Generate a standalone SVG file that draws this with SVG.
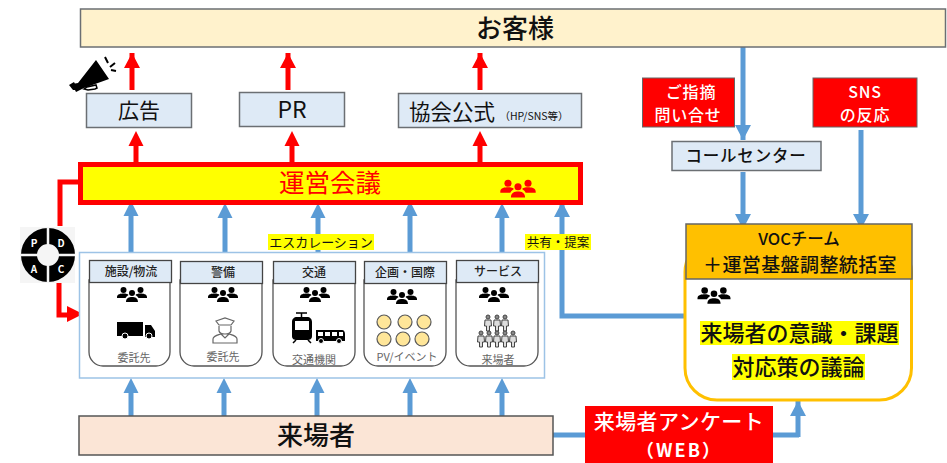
<svg xmlns="http://www.w3.org/2000/svg" xmlns:xlink="http://www.w3.org/1999/xlink" width="947" height="463" viewBox="0 0 947 463">
<style>
text{font-family:"Noto Sans CJK JP","Noto Sans",sans-serif;text-anchor:middle;fill:#111}
.box{fill:#DEEAF6;stroke:#6b6f73;stroke-width:1.5}
.red{fill:#FF0000;stroke:#666;stroke-width:1}
.card{fill:#fff;stroke:#555;stroke-width:1.3}
.head{fill:#DEEAF6;stroke:#444;stroke-width:1.3}
.ht{font-size:12px;font-weight:500;fill:#222}
.ct{font-size:11px;fill:#666}
.hl{fill:#FFFF00}
.bl{fill:none;stroke:#5B9BD5;stroke-width:5}
.rd{fill:none;stroke:#FF0000;stroke-width:5}
.c{fill:#FFE699;stroke:#595959;stroke-width:1.2}
</style>
<defs>
<marker id="ab" markerUnits="userSpaceOnUse" markerWidth="16" markerHeight="16" refX="15" refY="8" orient="auto"><path d="M0 0L15 8L0 16z" fill="#5B9BD5"/></marker>
<marker id="ar" markerUnits="userSpaceOnUse" markerWidth="16" markerHeight="16" refX="15" refY="8" orient="auto"><path d="M0 0L15 8L0 16z" fill="#FF0000"/></marker>
<g id="people">
<circle cx="-8.500" cy="-5" r="3"/><circle cx="8.500" cy="-5" r="3"/><circle cx="0" cy="-2" r="3"/>
<path d="M-15 2C-15-1-11-1.500-8.500-1.500C-6-1.500-4-1-3.500 0C-5 1-6 2-6.500 3H-15zM15 2C15-1 11-1.500 8.500-1.500C6-1.500 4-1 3.500 0C5 1 6 2 6.500 3H15zM-6 7C-6 3-3 2 0 2C3 2 6 3 6 7z"/>
</g>
<g id="person" fill="none" stroke="#444" stroke-width="1">
<circle cx="0" cy="-6" r="2" fill="#888"/><path d="M-3-3H3L3.500 3H1.500V8H-1.500V3H-3.500z" fill="#ddd"/>
</g>
</defs>

<g id="connectors">
<path class="rd" marker-end="url(#ar)" d="M132 90V53"/>
<path class="rd" marker-end="url(#ar)" d="M288 90V53"/>
<path class="rd" marker-end="url(#ar)" d="M480 90V53"/>
<path class="bl" marker-end="url(#ab)" d="M743 47V140"/>
<path class="bl" marker-end="url(#ab)" d="M743 172V229"/>
<path class="bl" marker-end="url(#ab)" d="M861 130V229"/>
<path class="bl" d="M553 435H586M772 435H799"/>
<path class="bl" marker-end="url(#ab)" d="M798 437V401"/>
<path class="bl" d="M131 252V215M225 252V215M318 252V215M410 252V215M502 252V215"/>
<path d="M123.500 216L131 201L138.500 216zM217.500 218L225 203L232.500 218zM310.500 218L318 203L325.500 218zM402.500 216L410 201L417.500 216zM494.500 218L502 203L509.500 218z" fill="#5B9BD5"/>
<path class="bl" d="M131 416V392M224 416V392M317 416V392M410 416V392M502 416V392"/>
<path d="M123.500 393L131 378L138.500 393zM216.500 393L224 378L231.500 393zM309.500 393L317 378L324.500 393zM402.500 393L410 378L417.500 393zM494.500 393L502 378L509.500 393z" fill="#5B9BD5"/>
<path class="bl" marker-end="url(#ab)" d="M684 316H562V202"/>
<path class="rd" d="M79 182H60V226"/>
<path class="rd" d="M59 283V315H70"/>
<path d="M67 306L83 314L67 322z" fill="#FF0000"/>
</g>

<g id="customer"><rect x="80.500" y="9" width="865" height="38" fill="#FFF2CC" stroke="#6b6f73" stroke-width="1.5"/><text x="515" y="38" font-size="26" font-weight="500">お客様</text></g>
<g id="ad"><rect class="box" x="86.500" y="93.500" width="105" height="34"/><text x="139" y="118" font-size="21">広告</text></g>
<g id="pr"><rect class="box" x="239.500" y="92.500" width="105" height="34"/><text x="292" y="118" font-size="23">PR</text></g>
<g id="official"><rect class="box" x="398.500" y="93.500" width="183" height="34"/><text x="452" y="120" font-size="21.500">協会公式</text><text x="534" y="120" font-size="10.500" fill="#444">（HP/SNS等）</text></g>
<g id="megaphone">
<path d="M72 84L78 83L96 60L109 79L84 88L76 92z" fill="#000"/><path d="M69 85L74 82L78 90L73 90z" fill="#000"/><path d="M84 89L87 87L96 85L97 88L95 89L88 90z" fill="none" stroke="#000" stroke-width="1.500"/>
<path d="M105 57L108 63M110 67L115 63M111 70L116 71" stroke="#000" stroke-width="2" fill="none"/>
</g>
<g id="board"><rect x="80.500" y="164.500" width="500" height="38" fill="#FFFF00" stroke="#FF0000" stroke-width="5"/><text x="330" y="192" font-size="25.500" style="fill:#FF0000">運営会議</text><use href="#people" x="518" y="189" fill="#FF0000" transform="translate(-93.240 -33.900) scale(1.180)" style="transform-origin:0 0"/></g>
<path class="rd" d="M136 166V145M292 166V145M480 166V145"/>
<path d="M128.500 146L136 131L143.500 146zM284.500 146L292 131L299.500 146zM472.500 146L480 131L487.500 146z" fill="#FF0000"/>

<g id="pdca">
<rect x="20" y="227" width="55" height="56" fill="#f5f5f5"/>
<circle cx="48" cy="255" r="19" fill="none" stroke="#000" stroke-width="16"/>
<path d="M48 228V282M21 255H75" stroke="#f5f5f5" stroke-width="2.500"/>
<text x="34" y="247" font-size="10" font-weight="700" style="fill:#fff">P</text><text x="61" y="247" font-size="10" font-weight="700" style="fill:#fff">D</text><text x="34" y="273" font-size="10" font-weight="700" style="fill:#fff">A</text><text x="61" y="273" font-size="10" font-weight="700" style="fill:#fff">C</text>
</g>

<g id="frame"><rect x="79.500" y="252.500" width="465" height="125.500" fill="#fff" stroke="#9DC3E6" stroke-width="1.500"/></g>
<g id="card-facility">
<path class="card" d="M89 280V352A14 14 0 0 0 103 366H156A14 14 0 0 0 170 352V280z"/><rect class="head" x="89.500" y="260.500" width="82" height="22"/>
<text class="ht" x="131" y="276">施設/物流</text><use href="#people" x="132" y="295"/>
<path d="M117 322H143V336H117zM145 325H151L155 331V337H145z"/><circle cx="125" cy="336" r="3" stroke="#fff"/><circle cx="149" cy="336" r="3" stroke="#fff"/>
<text class="ct" x="134" y="362">委託先</text>
</g>
<g id="card-security">
<path class="card" d="M180 280V352A14 14 0 0 0 194 366H248A14 14 0 0 0 262 352V280z"/><rect class="head" x="180.500" y="261.500" width="82" height="22"/>
<text class="ht" x="223" y="277">警備</text><use href="#people" x="223" y="295"/>
<path d="M216 321L225 318L234 321L231 325H219zM219 326V331C220 335 230 335 231 331V326M213 343V339C213 336 218 335 221 334L225 338L229 334C232 335 237 336 237 339V343z" fill="#fff" stroke="#666" stroke-width="1.2"/>
<text class="ct" x="223" y="361">委託先</text>
</g>
<g id="card-transit">
<path class="card" d="M273 280V352A14 14 0 0 0 287 366H341A14 14 0 0 0 355 352V280z"/><rect class="head" x="273.500" y="261.500" width="82" height="22"/>
<text class="ht" x="314" y="277">交通</text><use href="#people" x="315" y="295"/>
<path d="M296 313H307M301.500 313V318" stroke="#000" stroke-width="1.500" fill="none"/>
<path d="M297 317H307C310 317 312 319 312 322V336C312 339 310 340 307 340H297C294 340 292 339 292 336V322C292 319 294 317 297 317zM295 321V330H309V321z" fill-rule="evenodd"/>
<path d="M296 340L293 343M308 340L311 343" stroke="#000" stroke-width="1.500"/>
<path d="M316 330H342C344 330 345 332 345 334V341H316zM318 332V336H323V332zM325 332V336H330V332zM332 332V336H337V332zM339 332V336H343V332z" fill-rule="evenodd"/><circle cx="321" cy="341" r="2.500" stroke="#fff"/><circle cx="339" cy="341" r="2.500" stroke="#fff"/>
<text class="ct" x="314" y="364">交通機関</text>
</g>
<g id="card-planning">
<path class="card" d="M364 280V352A14 14 0 0 0 378 366H432A14 14 0 0 0 446 352V280z"/><rect class="head" x="364.500" y="261.500" width="82" height="22"/>
<text class="ht" x="405" y="277">企画・国際</text><use href="#people" x="402" y="297"/>
<circle class="c" cx="384" cy="322" r="7"/><circle class="c" cx="405" cy="322" r="7"/><circle class="c" cx="424" cy="322" r="7"/><circle class="c" cx="384" cy="339" r="7"/><circle class="c" cx="403" cy="339" r="7"/><circle class="c" cx="422" cy="339" r="7"/>
<text class="ct" x="407" y="361">PV/イベント</text>
</g>
<g id="card-service">
<path class="card" d="M456 280V352A14 14 0 0 0 470 366H524A14 14 0 0 0 538 352V280z"/><rect class="head" x="456.500" y="260.500" width="82" height="22"/>
<text class="ht" x="498" y="276">サービス</text><use href="#people" x="494" y="295"/>
<use href="#person" x="488" y="323"/><use href="#person" x="497" y="323"/><use href="#person" x="505" y="323"/>
<use href="#person" x="481" y="339"/><use href="#person" x="489" y="339"/><use href="#person" x="497" y="339"/><use href="#person" x="505" y="339"/><use href="#person" x="513" y="339"/>
<text class="ct" x="498" y="364">来場者</text>
</g>
<g id="escalation"><rect class="hl" x="268" y="234" width="106" height="16"/><text x="321" y="247" font-size="13">エスカレーション</text></g>
<g id="share"><rect class="hl" x="525" y="234" width="66" height="16"/><text x="558" y="247" font-size="12.500">共有・提案</text></g>

<g id="visitors"><rect x="79" y="416" width="474" height="39" fill="#FBE5D6" stroke="#555" stroke-width="1.5"/><text x="316" y="445" font-size="26" font-weight="500">来場者</text></g>
<g id="survey"><rect x="585" y="406" width="188" height="57" fill="#FF0000"/><text x="679" y="429" font-size="21" font-weight="500" letter-spacing=".4" style="fill:#fff">来場者アンケート</text><text x="679" y="457" font-size="18" font-weight="700" letter-spacing="2" style="fill:#fff">（WEB）</text></g>
<g id="inquiry"><rect class="red" x="642.500" y="78" width="92" height="49"/><text x="691" y="97.500" font-size="16" font-weight="500" letter-spacing=".8" style="fill:#fff">ご指摘</text><text x="688" y="121" font-size="16" font-weight="500" letter-spacing=".8" style="fill:#fff">問い合せ</text></g>
<g id="sns"><rect class="red" x="813" y="78" width="104" height="49"/><text x="865" y="97.500" font-size="16" font-weight="500" letter-spacing=".8" style="fill:#fff">SNS</text><text x="865" y="121" font-size="16" font-weight="500" letter-spacing=".8" style="fill:#fff">の反応</text></g>
<g id="callcenter"><rect class="box" x="672" y="141.500" width="149" height="29"/><text x="746" y="162" font-size="16.500" font-weight="500" letter-spacing=".8">コールセンター</text></g>
<g id="voc">
<rect x="685" y="240" width="226.500" height="160" rx="32" fill="#fff" stroke="#FFC000" stroke-width="3"/>
<rect x="686" y="224" width="226" height="55" fill="#FFC000" stroke="#666" stroke-width="1.500"/>
<text x="799" y="245" font-size="16.500" font-weight="500">VOCチーム</text>
<text x="800" y="272" font-size="19" font-weight="500" letter-spacing=".4">＋運営基盤調整統括室</text>
<use href="#people" x="714" y="296" transform="translate(-71.400 -29.600) scale(1.100)" style="transform-origin:0 0"/>
<rect class="hl" x="700" y="321" width="199" height="24"/><rect class="hl" x="732" y="354" width="133" height="26"/>
<text x="799.500" y="341" font-size="22" font-weight="500">来場者の意識・課題</text>
<text x="798.500" y="375" font-size="22" font-weight="500">対応策の議論</text>
</g>
</svg>
